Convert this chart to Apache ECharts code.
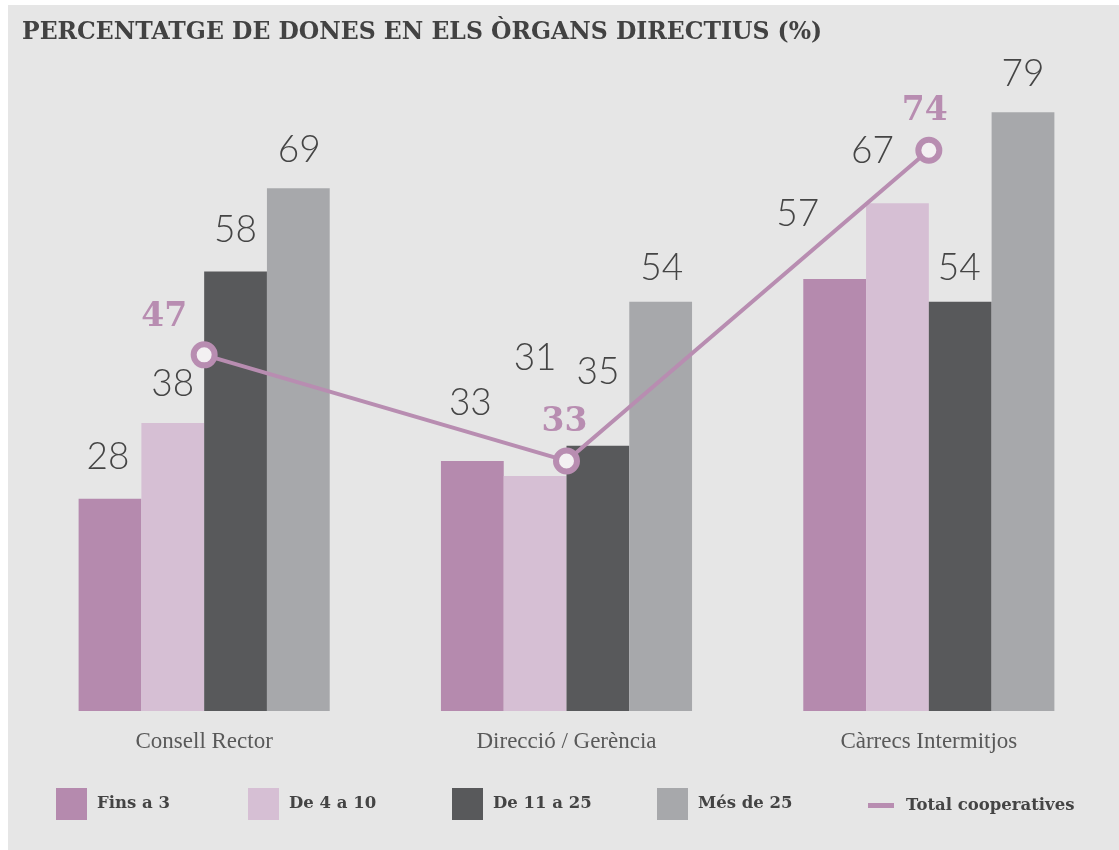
<!DOCTYPE html>
<html>
<head>
<meta charset="utf-8">
<script src="https://cdn.jsdelivr.net/npm/echarts@6/dist/echarts.min.js"></script>
<style>
html,body{margin:0;padding:0;background:#ffffff;}
#chart{width:1119px;height:850px;}
</style>
</head>
<body>
<div id="chart"></div>
<script>
// ---- data ----
const categories = ['Consell Rector', 'Direcció / Gerència', 'Càrrecs Intermitjos'];
const fins3 = [28, 33, 57];
const de4a10 = [38, 31, 67];
const de11a25 = [58, 35, 54];
const mesDe25 = [69, 54, 79];
const totalCoop = [47, 33, 74];
const seriesNames = ['Fins a 3', 'De 4 a 10', 'De 11 a 25', 'Més de 25', 'Total cooperatives'];
const titleText = 'PERCENTATGE DE DONES EN ELS ÒRGANS DIRECTIUS (%)';

// ---- styling ----
const colors = ['#b58aae', '#d6bfd4', '#58595b', '#a7a8ab'];
const lineColor = '#b88db1';
// label nudges [dx, dy of label centre relative to bar top]
const barLabelNudge = [
  [[-2, -42], [-2, -58], [-37, -65]],
  [[0, -39], [0, -118], [-25, -52]],
  [[0, -41], [0, -74], [-1, -34]],
  [[1, -38], [1, -34], [0, -38]]
];
const lineLabelNudge = [[-40, -37], [-2, -39], [-4, -39]];

const LBL = 37;
function barSeries(idx, values) {
  return {
    name: seriesNames[idx],
    type: 'bar',
    barGap: '0%',
    barCategoryGap: '30.7%',
    itemStyle: { color: colors[idx] },
    data: values.map((v, i) => ({
      value: v,
      label: {
        show: true,
        position: 'top',
        distance: 0,
        fontFamily: 'Lato',
        fontWeight: 300,
        fontSize: LBL,
        lineHeight: LBL,
        color: '#454545',
        offset: [barLabelNudge[idx][i][0], barLabelNudge[idx][i][1] + LBL / 2]
      }
    }))
  };
}

const legendFont = { fontFamily: 'DejaVu Serif', fontWeight: 'bold', fontSize: 16.5, color: '#444', padding: [0, 0, 0, 5] };
const legendLefts = [51, 243, 447, 652];

const option = {
  animation: false,
  backgroundColor: 'transparent',
  graphic: [
    { type: 'rect', z: -10, shape: { x: 8, y: 5, width: 1111, height: 845 }, style: { fill: '#e6e6e6' } },
    { type: 'text', left: 22, top: 21, style: { text: titleText, fontFamily: 'DejaVu Serif', fontWeight: 'bold', fontSize: 23.5, fill: '#424242' } }
  ],
  grid: { left: 23, right: 9, top: 29, bottom: 139 },
  xAxis: {
    type: 'category',
    data: categories,
    axisLine: { show: false },
    axisTick: { show: false },
    axisLabel: { margin: 19, fontFamily: 'Liberation Serif', fontSize: 23, color: '#595959' }
  },
  yAxis: { type: 'value', min: 0, max: 90, show: false, splitLine: { show: false } },
  legend: legendLefts.map((l, i) => ({
    left: l, top: 783, itemWidth: 31, itemHeight: 32, selectedMode: false,
    data: [{ name: seriesNames[i], icon: 'rect' }],
    textStyle: legendFont
  })).concat([{
    left: 863, top: 792, itemWidth: 26, itemHeight: 5, selectedMode: false,
    data: [{ name: seriesNames[4], icon: 'rect', itemStyle: { color: lineColor, borderWidth: 0 } }],
    textStyle: Object.assign({}, legendFont, { padding: [0, 0, 0, 7] })
  }]),
  series: [
    barSeries(0, fins3),
    barSeries(1, de4a10),
    barSeries(2, de11a25),
    barSeries(3, mesDe25),
    {
      name: seriesNames[4],
      type: 'line',
      z: 5,
      symbol: 'circle',
      symbolSize: 21,
      lineStyle: { color: lineColor, width: 4 },
      itemStyle: { color: '#f3f0f2', borderColor: lineColor, borderWidth: 6 },
      data: totalCoop.map((v, i) => ({
        value: v,
        label: {
          show: true,
          position: 'inside',
          align: 'center',
          verticalAlign: 'middle',
          fontFamily: 'DejaVu Serif',
          fontWeight: 'bold',
          fontSize: 33,
          color: lineColor,
          offset: lineLabelNudge[i]
        }
      }))
    }
  ]
};

const chart = echarts.init(document.getElementById('chart'), null, { renderer: 'canvas' });
chart.setOption(option);
</script>
</body>
</html>
